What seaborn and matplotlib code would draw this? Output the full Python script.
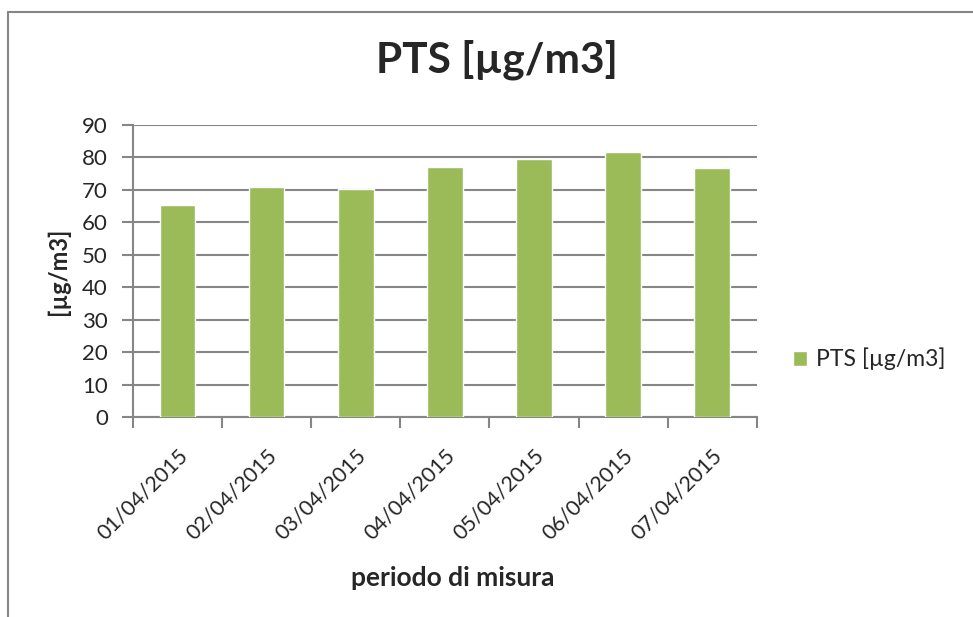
import matplotlib
matplotlib.use("Agg")
import matplotlib.pyplot as plt
import seaborn as sns
import pandas as pd
from matplotlib.lines import Line2D
from matplotlib.patches import Patch

# dati
giorni = ["01/04/2015", "02/04/2015", "03/04/2015", "04/04/2015",
          "05/04/2015", "06/04/2015", "07/04/2015"]
pts = [65.4, 70.7, 70.1, 77.0, 79.4, 81.6, 76.7]
serie = "PTS [µg/m3]"
y_ticks = [0, 10, 20, 30, 40, 50, 60, 70, 80, 90]

verde = "#9BBB59"
grigio = "#868686"

sns.set_style("white")
plt.rcParams["font.family"] = ["Lato", "DejaVu Sans"]

df = pd.DataFrame({"giorno": giorni, "valore": pts})

fig = plt.figure(figsize=(9.73, 6.17), dpi=100)
ax = fig.add_axes([0.1367, 0.324, 0.641, 0.474])

sns.barplot(data=df, x="giorno", y="valore", color=verde, saturation=1,
            width=0.4, ax=ax, zorder=3)

# griglia e assi
ax.set_ylim(0, 90)
ax.set_xlim(-0.5, len(giorni) - 0.5)
ax.set_yticks(y_ticks)
ax.yaxis.grid(True, color=grigio, linewidth=1.5, zorder=0)
ax.xaxis.grid(False)
for s in ["top", "right"]:
    ax.spines[s].set_visible(False)
for s in ["left", "bottom"]:
    ax.spines[s].set_color(grigio)
    ax.spines[s].set_linewidth(1.5)

ax.tick_params(axis="y", which="major", length=8, width=1.5, color=grigio,
               labelsize=16, direction="out", left=True, pad=10)
ax.set_xticks(range(len(giorni)))
ax.set_xticklabels(giorni, rotation=45, ha="right", rotation_mode="anchor",
                   fontsize=15.5)
ax.tick_params(axis="x", which="major", length=0, pad=20)
ax.set_xticks([i - 0.5 for i in range(len(giorni) + 1)], minor=True)
ax.tick_params(axis="x", which="minor", length=8, width=1.5, color=grigio,
               direction="out", bottom=True)

ax.set_xlabel("periodo di misura", fontsize=19, fontweight="bold")
ax.xaxis.label.set_va("center")
ax.xaxis.set_label_coords(0.513, -0.551)
ax.set_ylabel("[µg/m3]", fontsize=17, fontweight="bold")
ax.yaxis.label.set_va("center")
ax.yaxis.set_label_coords(-0.12, 0.5)
fig.text(0.511, 0.903, "PTS [µg/m3]", fontsize=30.5, fontweight="bold",
         ha="center", va="center")

# legenda
fig.legend(handles=[Patch(facecolor=verde, label=serie)], loc="center left",
           bbox_to_anchor=(0.815, 1 - 359 / 617), frameon=False, fontsize=16.5,
           handlelength=0.6, handleheight=0.6, handletextpad=0.4,
           borderaxespad=0, borderpad=0)

# cornice del grafico
fig.add_artist(Line2D([8 / 973, 1], [1 - 12 / 617] * 2, color=grigio,
                      linewidth=1.5, transform=fig.transFigure))
fig.add_artist(Line2D([8 / 973] * 2, [0, 1 - 12 / 617], color=grigio,
                      linewidth=1.5, transform=fig.transFigure))

fig.savefig("out.png", dpi=100)
